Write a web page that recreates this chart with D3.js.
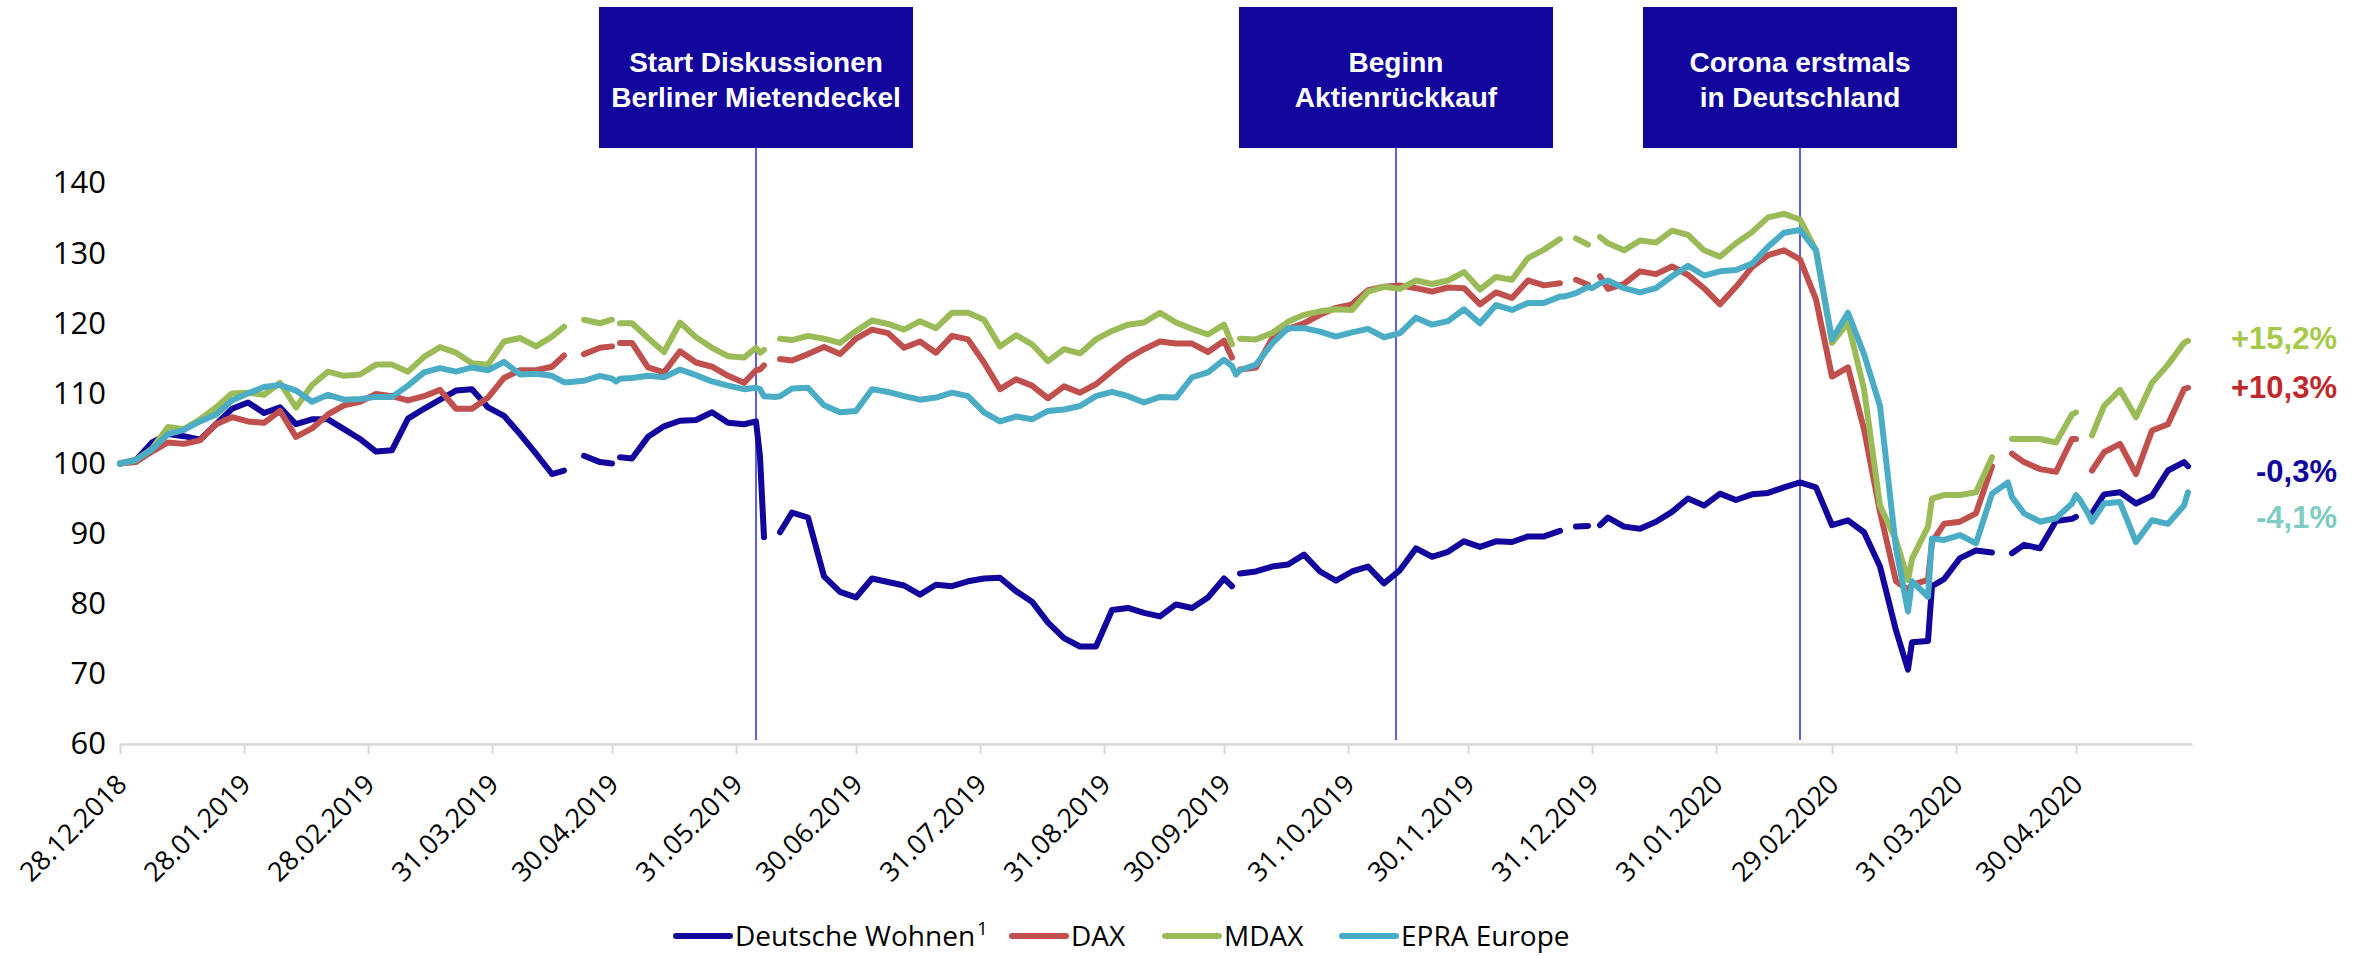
<!DOCTYPE html>
<html lang="de">
<head>
  <meta charset="UTF-8">
  <title>Deutsche Wohnen vs. DAX, MDAX, EPRA Europe</title>
  <script src="https://d3js.org/d3.v7.min.js"></script>
  <style>
    body { margin: 0; background: #fff; }
    svg { display: block; }
    .series { fill: none; stroke-width: 6px; stroke-linejoin: round; stroke-linecap: round; }
    .event-box text { fill: #fff; font-family: "Liberation Sans", Arial, sans-serif; font-weight: bold; font-size: 28px; }
    .end-label { font-family: "Liberation Sans", Arial, sans-serif; font-weight: bold; font-size: 31px; }
    .legend text { font-family: "Open Sans", sans-serif; font-size: 28px; fill: #000; }
  </style>
</head>
<body>
<svg id="chart"></svg>

<script>
  // sampled dates (roughly every 4 days, plus the days around exchange holidays)
  var dates = [
    "2018-12-28",
    "2019-01-01","2019-01-05","2019-01-09","2019-01-13","2019-01-17","2019-01-21","2019-01-25","2019-01-29",
    "2019-02-02","2019-02-06","2019-02-10","2019-02-14","2019-02-18","2019-02-22","2019-02-26",
    "2019-03-02","2019-03-06","2019-03-10","2019-03-14","2019-03-18","2019-03-22","2019-03-26","2019-03-30",
    "2019-04-03","2019-04-07","2019-04-11","2019-04-15","2019-04-18","2019-04-19","2019-04-23","2019-04-27","2019-04-30",
    "2019-05-01","2019-05-02","2019-05-05","2019-05-09","2019-05-13","2019-05-17","2019-05-21","2019-05-25","2019-05-29",
    "2019-06-02","2019-06-05","2019-06-06","2019-06-07","2019-06-10","2019-06-11","2019-06-14","2019-06-18","2019-06-22","2019-06-26","2019-06-30",
    "2019-07-04","2019-07-08","2019-07-12","2019-07-16","2019-07-20","2019-07-24","2019-07-28",
    "2019-08-01","2019-08-05","2019-08-09","2019-08-13","2019-08-17","2019-08-21","2019-08-25","2019-08-29",
    "2019-09-02","2019-09-06","2019-09-10","2019-09-14","2019-09-18","2019-09-22","2019-09-26","2019-09-30",
    "2019-10-02","2019-10-03","2019-10-04","2019-10-08","2019-10-12","2019-10-16","2019-10-20","2019-10-24","2019-10-28",
    "2019-11-01","2019-11-05","2019-11-09","2019-11-13","2019-11-17","2019-11-21","2019-11-25","2019-11-29",
    "2019-12-03","2019-12-07","2019-12-11","2019-12-15","2019-12-19","2019-12-23","2019-12-24","2019-12-27","2019-12-30","2019-12-31",
    "2020-01-02","2020-01-04","2020-01-08","2020-01-12","2020-01-16","2020-01-20","2020-01-24","2020-01-28",
    "2020-02-01","2020-02-05","2020-02-09","2020-02-13","2020-02-17","2020-02-21","2020-02-25","2020-02-29",
    "2020-03-04","2020-03-08","2020-03-12","2020-03-16","2020-03-19","2020-03-20","2020-03-24","2020-03-25","2020-03-28",
    "2020-04-01","2020-04-05","2020-04-09","2020-04-13","2020-04-14","2020-04-17","2020-04-21","2020-04-25","2020-04-29","2020-04-30",
    "2020-05-01","2020-05-03","2020-05-04","2020-05-07","2020-05-11","2020-05-15","2020-05-19","2020-05-23","2020-05-27","2020-05-28"
  ];

  // indexed values, null = holiday gap
  var dwValues = [
    100,
    100.5,103.0,104.2,103.9,103.4,105.6,107.8,108.7,
    107.2,108.0,105.6,106.3,106.3,104.9,103.5,
    101.7,101.9,106.4,107.8,109.1,110.4,110.6,108.0,
    106.8,104.2,101.4,98.5,99.0,null,101.1,100.2,100.0,
    null,100.9,100.7,103.8,105.3,106.1,106.2,107.3,105.8,
    105.6,106.0,101.0,89.5,null,90.2,93.0,92.3,83.9,81.7,80.9,
    83.6,83.1,82.6,81.3,82.7,82.5,83.2,
    83.6,83.7,81.8,80.3,77.3,75.1,73.9,73.9,
    79.1,79.4,78.7,78.2,79.9,79.4,80.9,83.6,
    82.5,null,84.3,84.6,85.3,85.6,87.0,84.6,83.3,
    84.6,85.3,82.9,84.8,87.9,86.7,87.4,88.9,
    88.1,88.9,88.8,89.6,89.6,90.4,null,91.0,91.1,null,
    91.2,92.3,91.0,90.7,91.7,93.1,95.0,94.0,
    95.7,94.8,95.6,95.8,96.6,97.3,96.6,91.2,
    91.9,90.2,85.3,76.2,70.6,74.5,74.7,82.5,83.5,
    86.5,87.6,87.3,null,87.2,88.4,87.9,91.8,92.1,92.4,
    null,null,92.9,95.6,95.9,94.3,95.4,99.0,100.2,99.6
  ];
  var daxValues = [
    100,
    100.2,101.7,103.0,102.8,103.3,105.6,106.6,106.0,
    105.8,107.5,103.8,105.0,107.0,108.3,108.8,
    109.9,109.6,109.0,109.6,110.5,107.8,107.8,109.4,
    112.2,113.3,113.3,113.8,115.4,null,115.6,116.5,116.7,
    null,117.2,117.2,113.7,113.0,116.0,114.4,113.8,112.5,
    111.5,113.3,113.4,114.0,null,114.9,114.7,115.6,116.6,115.6,117.8,
    119.1,118.6,116.5,117.4,115.8,118.2,117.7,
    114.4,110.6,112.0,111.1,109.3,111.0,110.1,111.3,
    113.2,115.0,116.3,117.4,117.1,117.1,115.9,117.5,
    115.1,null,113.4,113.7,117.8,119.2,120.0,121.2,122.2,
    122.7,124.7,125.2,125.4,125.0,124.5,125.1,125.0,
    122.7,124.4,123.6,126.1,125.4,125.7,null,126.2,125.5,null,
    126.7,124.9,125.6,127.4,127.0,128.1,126.9,125.0,
    122.7,125.2,128.0,129.7,130.4,129.1,123.4,112.4,
    113.7,104.9,93.1,83.2,82.0,82.7,83.4,88.8,91.4,
    91.7,92.9,99.6,null,101.4,100.2,99.2,98.8,103.5,103.5,
    null,null,99.0,101.6,102.8,98.5,104.7,105.6,110.6,110.8
  ];
  var mdaxValues = [
    100,
    100.5,102.1,105.2,104.9,106.3,108.0,110.0,110.1,
    109.8,111.5,108.0,111.2,113.1,112.5,112.7,
    114.1,114.1,113.1,115.2,116.6,115.8,114.3,114.1,
    117.4,117.9,116.7,118.1,119.5,null,120.5,120.0,120.5,
    null,120.0,120.0,117.9,115.9,120.1,118.0,116.5,115.3,
    115.1,116.5,115.8,116.2,null,117.8,117.6,118.2,117.8,117.2,118.9,
    120.4,119.9,119.1,120.3,119.3,121.5,121.5,
    120.5,116.7,118.3,117.0,114.6,116.3,115.7,117.7,
    118.9,119.8,120.1,121.5,120.1,119.2,118.4,119.8,
    117.0,null,117.8,117.7,118.6,120.2,121.2,121.7,122.0,
    121.9,124.5,125.2,124.9,126.1,125.6,126.1,127.3,
    124.8,126.6,126.2,129.3,130.5,132.0,null,132.1,131.2,null,
    132.3,131.4,130.4,131.8,131.5,133.2,132.6,130.4,
    129.5,131.4,133.0,135.1,135.6,134.8,130.4,117.2,
    120.1,110.6,94.0,89.1,83.4,86.4,91.0,95.0,95.5,
    95.5,95.9,100.9,null,103.5,103.5,103.5,103.0,107.0,107.3,
    null,null,104.0,108.2,110.5,106.6,111.5,114.1,117.2,117.5
  ];
  var epraValues = [
    100,
    100.5,102.0,104.2,104.8,106.0,107.0,109.0,110.0,
    110.9,111.2,110.4,108.8,109.8,109.1,109.2,
    109.5,109.5,111.1,113.0,113.6,113.1,113.7,113.3,
    114.5,112.7,112.8,112.5,111.6,111.6,111.8,112.5,112.1,
    111.7,112.1,112.2,112.5,112.3,113.4,112.6,111.7,111.1,
    110.6,110.8,110.6,109.6,109.5,109.6,110.7,110.8,108.3,107.3,107.5,
    110.6,110.2,109.6,109.1,109.4,110.1,109.6,
    107.3,106.0,106.7,106.3,107.5,107.7,108.2,109.6,
    110.2,109.6,108.7,109.5,109.4,112.3,113.0,114.8,
    113.9,112.7,113.3,114.1,117.1,119.3,119.3,118.8,118.1,
    118.7,119.2,118.0,118.6,120.8,119.8,120.3,122.0,
    120.0,122.6,121.9,122.9,122.9,123.8,123.8,124.3,125.2,125.0,
    125.7,126.1,125.0,124.4,125.0,126.7,128.2,126.8,
    127.4,127.6,128.5,130.9,132.9,133.3,130.4,117.7,
    121.5,115.6,108.2,87.9,78.9,83.2,81.0,89.3,89.1,
    89.8,88.6,95.7,97.3,95.2,92.9,91.7,92.2,94.3,95.5,
    94.8,92.9,91.7,94.3,94.5,88.8,91.9,91.4,94.0,95.9
  ];

  var seriesNames = ["Deutsche Wohnen", "DAX", "MDAX", "EPRA Europe"];
  var seriesColors = ["#12069c", "#c0504d", "#9bbb59", "#4bacc6"];

  var yTicks = [60, 70, 80, 90, 100, 110, 120, 130, 140];
  var xTickLabels = ["28.12.2018","28.01.2019","28.02.2019","31.03.2019","30.04.2019","31.05.2019",
    "30.06.2019","31.07.2019","31.08.2019","30.09.2019","31.10.2019","30.11.2019","31.12.2019",
    "31.01.2020","29.02.2020","31.03.2020","30.04.2020"];

  var eventDates = ["2019-06-05", "2019-11-12", "2020-02-21"];
  var eventLines = [["Start Diskussionen", "Berliner Mietendeckel"], ["Beginn", "Aktienrückkauf"], ["Corona erstmals", "in Deutschland"]];

  var endLabels = ["+15,2%", "+10,3%", "-0,3%", "-4,1%"];
  var endLabelValues = [117.9, 110.9, 98.9, 92.4];
  var endLabelColors = ["#a6c94a", "#c0282d", "#12069c", "#7fcdc2"];

  var legendX = [676, 1012, 1165, 1342];

  var svgWidth = 2366, svgHeight = 956;
  var plotLeft = 120, plotRight = 2192, plotTop = 183, plotBottom = 744;
  var boxColor = "#12069c";

  var parseDay = d3.timeParse("%Y-%m-%d");
  var parseTick = d3.timeParse("%d.%m.%Y");
  var formatTick = d3.timeFormat("%d.%m.%Y");

  var svg = d3.select("#chart")
    .attr("width", svgWidth)
    .attr("height", svgHeight);

  var x = d3.scaleTime()
    .domain([parseDay("2018-12-28"), parseDay("2020-05-29")])
    .range([plotLeft, plotRight]);

  var y = d3.scaleLinear()
    .domain([60, 140])
    .range([plotBottom, plotTop]);

  // y axis (labels only)
  var gy = svg.append("g")
    .attr("transform", "translate(" + plotLeft + ",0)")
    .call(d3.axisLeft(y).tickValues(yTicks).tickSize(0).tickPadding(14));
  gy.select(".domain").remove();
  gy.attr("font-family", "'Open Sans', sans-serif").attr("font-size", 31);
  gy.selectAll("text").attr("fill", "#000");

  // x axis
  var gx = svg.append("g")
    .attr("transform", "translate(0," + plotBottom + ")")
    .call(d3.axisBottom(x)
      .tickValues(xTickLabels.map(parseTick))
      .tickFormat(formatTick)
      .tickSize(10)
      .tickSizeOuter(0));
  gx.attr("font-family", "'Open Sans', sans-serif").attr("font-size", 27);
  gx.select(".domain").attr("stroke", "#d9d9d9").attr("stroke-width", 2.5);
  gx.selectAll(".tick line").attr("stroke", "#d9d9d9").attr("stroke-width", 2);
  gx.selectAll(".tick text")
    .attr("fill", "#000")
    .attr("x", 0).attr("y", 0).attr("dy", 0)
    .attr("text-anchor", "end")
    .attr("transform", "translate(8,42) rotate(-45)");

  // event markers
  var events = eventDates.map(function(d, i) { return { date: parseDay(d), lines: eventLines[i] }; });

  svg.selectAll(".event-line")
    .data(events)
    .enter().append("line")
    .attr("class", "event-line")
    .attr("x1", function(d) { return x(d.date); })
    .attr("x2", function(d) { return x(d.date); })
    .attr("y1", 148)
    .attr("y2", plotBottom - 4)
    .attr("stroke", "#2a2ad0")
    .attr("stroke-width", 1.5);

  // series lines, first series at the bottom
  var line = d3.line()
    .defined(function(d) { return d.value != null; })
    .x(function(d) { return x(d.date); })
    .y(function(d) { return y(d.value); });

  var allValues = [dwValues, daxValues, mdaxValues, epraValues];
  var series = seriesNames.map(function(name, i) {
    return {
      name: name,
      color: seriesColors[i],
      points: dates.map(function(d, j) { return { date: parseDay(d), value: allValues[i][j] }; })
    };
  });

  svg.selectAll(".series")
    .data(series)
    .enter().append("path")
    .attr("class", "series")
    .attr("stroke", function(d) { return d.color; })
    .attr("d", function(d) { return line(d.points); });

  // boxes on top
  var box = svg.selectAll(".event-box")
    .data(events)
    .enter().append("g")
    .attr("class", "event-box")
    .attr("transform", function(d) { return "translate(" + x(d.date) + ",0)"; });

  box.append("rect")
    .attr("x", -157)
    .attr("y", 7)
    .attr("width", 314)
    .attr("height", 141)
    .attr("fill", boxColor);

  box.selectAll("text")
    .data(function(d) { return d.lines; })
    .enter().append("text")
    .attr("text-anchor", "middle")
    .attr("x", 0)
    .attr("y", function(d, i) { return 72 + i * 35; })
    .text(function(d) { return d; });

  // end-of-period performance labels
  svg.selectAll(".end-label")
    .data(endLabels)
    .enter().append("text")
    .attr("class", "end-label")
    .attr("x", 2337)
    .attr("y", function(d, i) { return y(endLabelValues[i]); })
    .attr("dy", "0.36em")
    .attr("text-anchor", "end")
    .attr("fill", function(d, i) { return endLabelColors[i]; })
    .text(function(d) { return d; });

  // legend
  var legend = svg.selectAll(".legend")
    .data(seriesNames)
    .enter().append("g")
    .attr("class", "legend")
    .attr("transform", function(d, i) { return "translate(" + legendX[i] + ",936)"; });

  legend.append("line")
    .attr("x1", 0).attr("x2", 54)
    .attr("y1", 0).attr("y2", 0)
    .attr("stroke", function(d, i) { return seriesColors[i]; })
    .attr("stroke-width", 6)
    .attr("stroke-linecap", "round");

  var legendText = legend.append("text")
    .attr("x", 59)
    .attr("y", 10)
    .text(function(d) { return d; });

  legendText.filter(function(d, i) { return i === 0; })
    .append("tspan")
    .attr("dy", -11)
    .attr("dx", 2)
    .attr("font-size", 19)
    .text("1");
</script>
</body>
</html>
